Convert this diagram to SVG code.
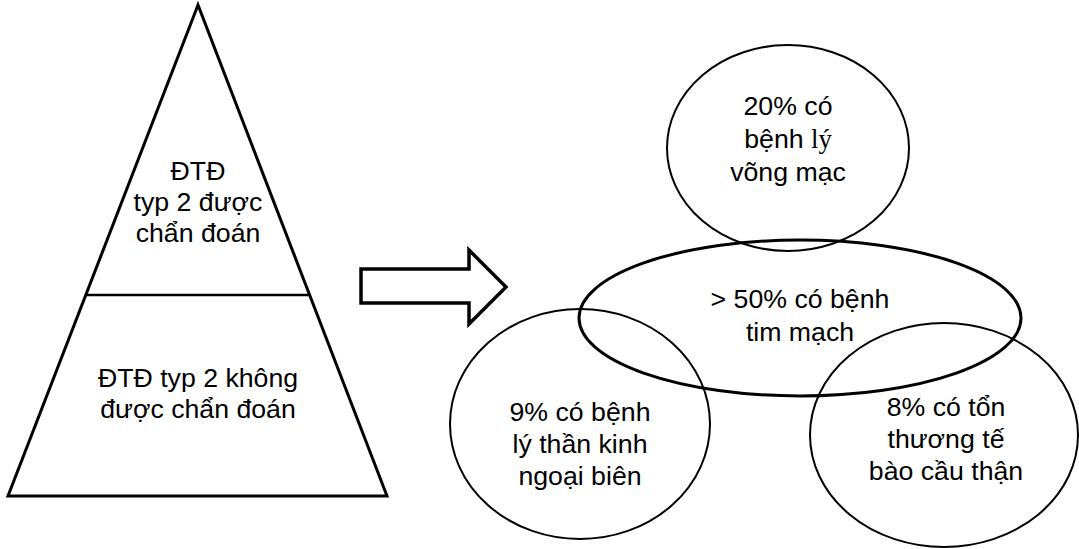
<svg xmlns="http://www.w3.org/2000/svg" width="1079" height="549" viewBox="0 0 1079 549">
<style>
.t{font-family:"Liberation Sans",Arial,sans-serif;font-size:26.7px;fill:#000;text-anchor:middle}
.s{font-family:"Liberation Serif","Times New Roman",serif}
.o{fill:none;stroke:#000}
</style>
<rect width="1079" height="549" fill="#fff"/>
<g id="pyramid">
<polygon class="o" points="198,5 8,496 387,496" stroke-width="3" stroke-linejoin="miter"/>
<line class="o" x1="87" y1="295" x2="309" y2="295" stroke-width="2.5"/>
<text class="t"><tspan x="198" y="180">ĐTĐ</tspan><tspan x="198" y="211">typ 2 được</tspan><tspan x="198" y="242">chẩn đoán</tspan></text>
<text class="t"><tspan x="198" y="387">ĐTĐ typ 2 không</tspan><tspan x="198" y="418">được chẩn đoán</tspan></text>
</g>
<g id="arrow">
<polygon class="o" points="361,269 469,269 469,250 506,287 469,324 469,303 361,303" stroke-width="3.5"/>
</g>
<g id="retina">
<ellipse class="o" cx="788" cy="148" rx="121" ry="103" stroke-width="2"/>
<text class="t"><tspan x="788" y="115">20% có</tspan><tspan x="788" y="148">bệnh <tspan class="s">lý</tspan></tspan><tspan x="788" y="181">võng mạc</tspan></text>
</g>
<g id="cardio">
<ellipse class="o" cx="800" cy="318" rx="221" ry="78" stroke-width="3"/>
<text class="t"><tspan x="800" y="308">&gt; 50% có bệnh</tspan><tspan x="800" y="341">tim mạch</tspan></text>
</g>
<g id="neuro">
<ellipse class="o" cx="580" cy="424" rx="130" ry="115" stroke-width="2"/>
<text class="t"><tspan x="580" y="421">9% có bệnh</tspan><tspan x="580" y="453">lý thần kinh</tspan><tspan x="580" y="485">ngoại biên</tspan></text>
</g>
<g id="renal">
<ellipse class="o" cx="944" cy="435" rx="134" ry="112" stroke-width="2"/>
<text class="t"><tspan x="946" y="416">8% có tổn</tspan><tspan x="946" y="448">thương tế</tspan><tspan x="946" y="480">bào cầu thận</tspan></text>
</g>
<g id="connectors"></g>
</svg>
